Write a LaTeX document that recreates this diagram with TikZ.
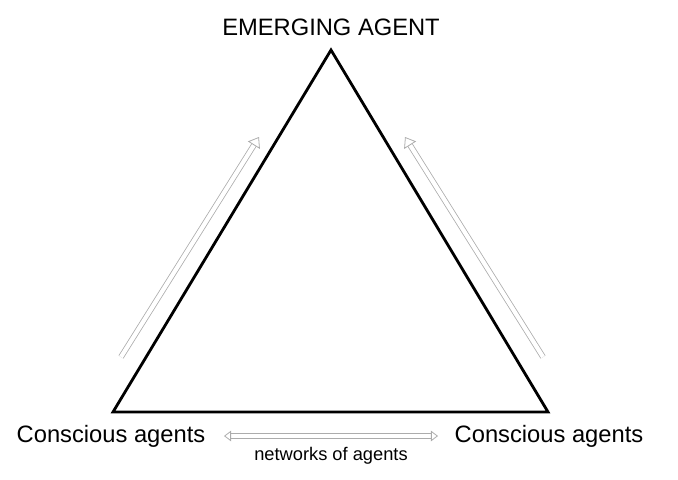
\documentclass[tikz,border=0pt]{standalone}
\usepackage{fontspec}
\setmainfont{Liberation Sans}
\usetikzlibrary{arrows.meta,calc}

\begin{document}
\begin{tikzpicture}[
    x=0.02cm, y=-0.02cm,
    edge/.style={line width=1.6pt, line join=miter},
    label/.style={font=\fontsize{13.5}{16}\selectfont, anchor=base, inner sep=0pt},
    small/.style={font=\fontsize{10.4}{12}\selectfont, anchor=base, inner sep=0pt},
    dblarrow/.style={draw=gray!65, line width=0.45pt, double=white, double distance=2.4pt,
      -{Triangle[open, length=5.5pt, width=8pt, line width=0.45pt]}},
    dbltwo/.style={dblarrow, double distance=2pt,
      {Triangle[open, length=4pt, width=6pt, line width=0.45pt]}-{Triangle[open, length=4pt, width=6pt, line width=0.45pt]}}
  ]
    \useasboundingbox (0,0) rectangle (678,479);

    % triangle corners
    \coordinate (top) at (331,50);
    \coordinate (bl) at (113,412);
    \coordinate (br) at (548,412);
    \draw[edge] (top) -- (br) -- (bl) -- cycle;

    \node[label] (emerge) at (331,36) {EMERGING AGENT};
    \node[label] (consl) at (111,442) {Conscious agents};
    \node[label] (consr) at (549,442) {Conscious agents};
    \node[small] (net) at (331,460) {networks of agents};

    % rising arrows beside the sides
    \coordinate (la0) at (121,357);
    \coordinate (la1) at (259,137);
    \coordinate (ra0) at (543,357);
    \coordinate (ra1) at (405,137);
    \draw[dblarrow] (la0) -- (la1);
    \draw[dblarrow] (ra0) -- (ra1);

    % between the two groups of agents
    \coordinate (ba0) at (224,436);
    \coordinate (ba1) at (438,436);
    \draw[dbltwo] (ba0) -- (ba1);
\end{tikzpicture}
\end{document}
